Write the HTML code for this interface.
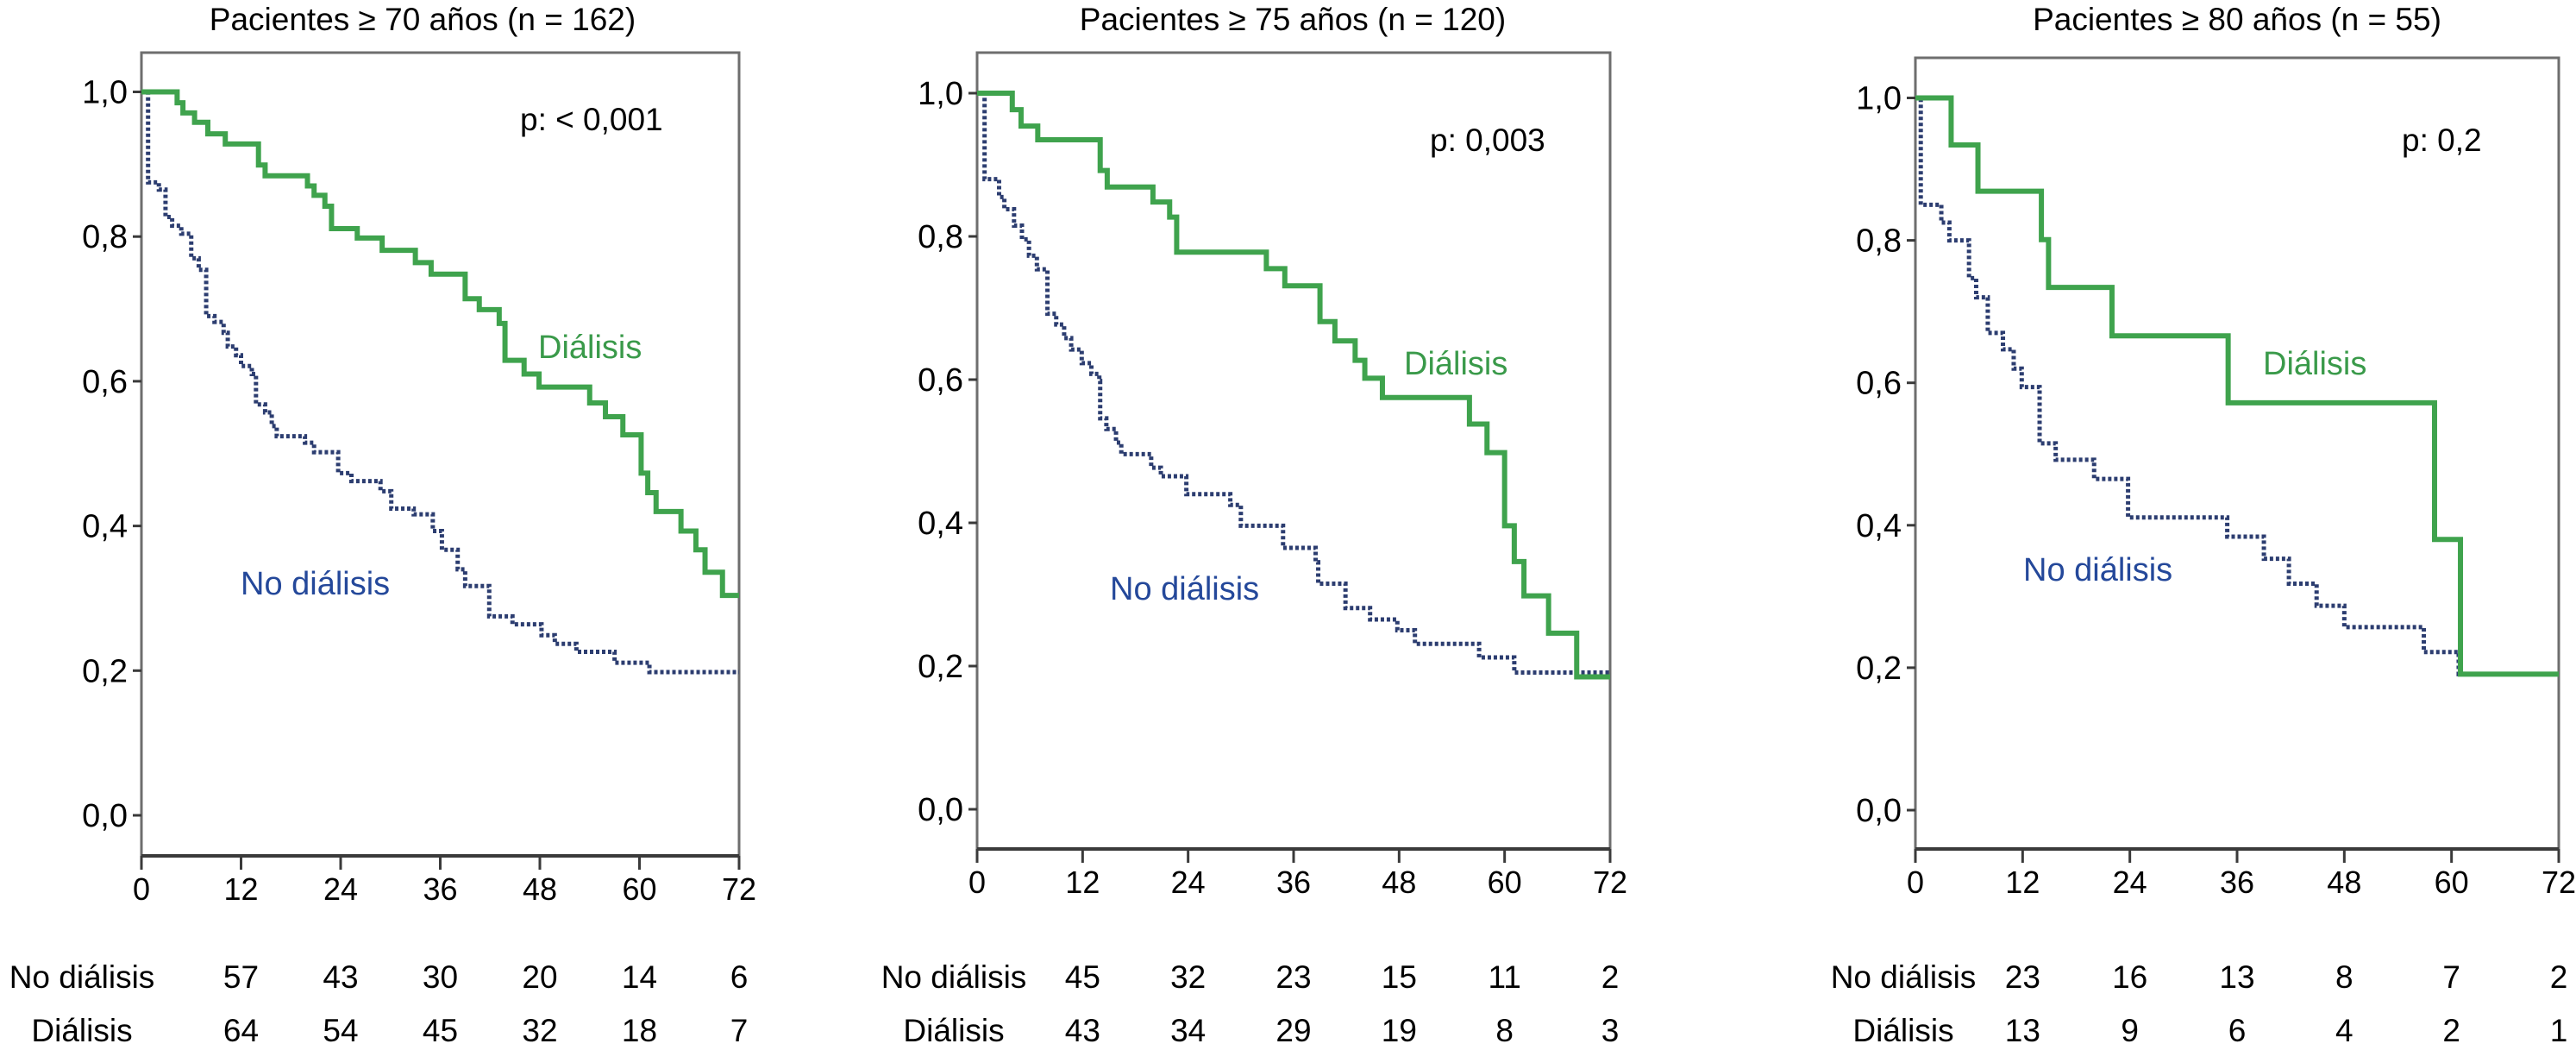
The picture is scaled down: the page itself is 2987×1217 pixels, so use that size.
<!DOCTYPE html>
<html><head><meta charset="utf-8"><style>
html,body{margin:0;padding:0;background:#fff;}
svg{display:block;font-family:"Liberation Sans",Arial,sans-serif;}
</style></head><body>
<svg id="chart" width="2987" height="1217" viewBox="0 0 2987 1217" xmlns="http://www.w3.org/2000/svg"></svg>
<script>
// ---- data ----
const xTicks = [0,12,24,36,48,60,72];
const yTicks = [0,0.2,0.4,0.6,0.8,1.0];
const yTickLabels = ["0,0","0,2","0,4","0,6","0,8","1,0"];
const titles = ["Pacientes ≥ 70 años (n = 162)","Pacientes ≥ 75 años (n = 120)","Pacientes ≥ 80 años (n = 55)"];
const pValues = ["p: < 0,001","p: 0,003","p: 0,2"];
const riskNoDial = [[57,43,30,20,14,6],[45,32,23,15,11,2],[23,16,13,8,7,2]];
const riskDial = [[64,54,45,32,18,7],[43,34,29,19,8,3],[13,9,6,4,2,1]];

const p1DialT = [0,4.3,5,6.4,8,10.1,14.1,14.9,20,20.8,22.1,22.9,26,29,33,34.9,39,40.7,43.1,43.8,46.1,47.9,54,55.9,58,60.2,61,62,65,66.8,67.9,70];
const p1DialS = [1,0.985,0.971,0.958,0.942,0.928,0.899,0.884,0.87,0.857,0.842,0.811,0.798,0.781,0.764,0.748,0.714,0.699,0.68,0.629,0.61,0.592,0.57,0.551,0.526,0.473,0.446,0.42,0.393,0.367,0.336,0.304];
const p1NoT = [0,0.8,2.1,2.9,3.7,4.8,6,6.9,7.8,8.8,9.9,10.4,11.4,12,13.3,13.8,14.9,15.7,16.3,19.7,20.8,23.7,25.3,28.8,30.1,32.8,35.1,36.2,38.1,39,41.9,44.7,48.2,49.8,52.4,57,61.2];
const p1NoS = [1,0.875,0.865,0.827,0.815,0.804,0.77,0.754,0.69,0.682,0.667,0.648,0.636,0.621,0.61,0.568,0.557,0.538,0.524,0.515,0.502,0.473,0.462,0.448,0.424,0.416,0.393,0.367,0.34,0.317,0.275,0.264,0.249,0.237,0.226,0.211,0.198];

const p2DialT = [0,4,5,6.9,14,14.8,20,21.9,22.7,32.9,35,39,40.7,43,44.1,46.1,56,58,60,61.1,62.2,65,68.2];
const p2DialS = [1,0.977,0.954,0.935,0.892,0.869,0.848,0.827,0.778,0.755,0.731,0.681,0.654,0.627,0.602,0.575,0.538,0.498,0.396,0.346,0.298,0.246,0.185];
const p2NoT = [0,0.85,2.5,3.1,4.2,5.1,5.9,6.8,8,9,9.9,10.7,11.9,13,13.9,14,14.7,15.8,16.4,19.8,20.9,23.8,28.8,30,34.8,38.5,38.8,41.9,44.7,47.8,49.8,57.1,61.1];
const p2NoS = [1,0.88,0.855,0.838,0.815,0.796,0.773,0.754,0.692,0.677,0.658,0.642,0.623,0.608,0.598,0.546,0.531,0.512,0.496,0.477,0.465,0.44,0.425,0.396,0.365,0.345,0.315,0.281,0.265,0.25,0.231,0.212,0.191];

const p3DialT = [0,4,7,14.1,14.9,22,35,58.1,61];
const p3DialS = [1,0.934,0.869,0.801,0.734,0.666,0.572,0.38,0.191];
const p3NoT = [0,0.6,2.9,3.8,6,6.8,8.1,9.8,11,11.9,13.9,15.7,20,23.8,34.9,39,41.8,44.9,48,56.9,60.8];
const p3NoS = [1,0.85,0.825,0.8,0.747,0.72,0.67,0.647,0.62,0.594,0.515,0.492,0.465,0.411,0.384,0.353,0.318,0.287,0.257,0.222,0.191];

const dialT = [p1DialT,p2DialT,p3DialT], dialS = [p1DialS,p2DialS,p3DialS];
const noT = [p1NoT,p2NoT,p3NoT], noS = [p1NoS,p2NoS,p3NoS];

// ---- layout ----
const panels = [
 {xl:164,xr:857,top:61,y1:106.5,y0:945,ax:992,title:490,rowLab:95,p:[603,151],dl:[624,415],nl:[279,689]},
 {xl:1133,xr:1867,top:61,y1:108,y0:938,ax:984,title:1499,rowLab:1106,p:[1658,175],dl:[1628,434],nl:[1287,695]},
 {xl:2221,xr:2967,top:67,y1:113.5,y0:939,ax:984,title:2594,rowLab:2207,p:[2785,175],dl:[2624,434],nl:[2346,673]}
];
const svg = document.getElementById('chart');
const NS = 'http://www.w3.org/2000/svg';
function mk(tag, attrs, parent){const e=document.createElementNS(NS,tag);for(const k in attrs)e.setAttribute(k,attrs[k]);(parent||svg).appendChild(e);return e;}

panels.forEach((P,i)=>{
  const X = t => P.xl + (P.xr-P.xl)*t/72;
  const Y = v => P.y0 + (P.y1-P.y0)*v;
  const g = mk('g',{});
  
  

  const ti = mk('text',{x:P.title,y:35,'font-size':37,'text-anchor':'middle',fill:'#000'},g);
  ti.textContent = titles[i];
  
  

  const fr = mk('path',{d:`M${P.xl},${P.ax} V${P.top} H${P.xr} V${P.ax}`,fill:'none',stroke:'#6e6e6e','stroke-width':3},g);
  
  
  const xa = mk('line',{x1:P.xl,x2:P.xr,y1:P.ax,y2:P.ax,stroke:'#3a3a3a','stroke-width':4},g);
  
  

  xTicks.forEach((t,j)=>{
    const tk = mk('line',{x1:X(t),x2:X(t),y1:P.ax,y2:P.ax+16,stroke:'#3a3a3a','stroke-width':3},g);
    
    
    const tl = mk('text',{x:X(t),y:P.ax+51,'font-size':36,'text-anchor':'middle',fill:'#000'},g);
    tl.textContent = t;
    
    
  });
  yTicks.forEach((v,j)=>{
    const tk = mk('line',{x1:P.xl-10,x2:P.xl,y1:Y(v),y2:Y(v),stroke:'#3a3a3a','stroke-width':3},g);
    
    
    const tl = mk('text',{x:P.xl-16,y:Y(v)+13,'font-size':38,'text-anchor':'end',fill:'#000'},g);
    tl.textContent = yTickLabels[j];
    
    
  });

  function stepPath(T,S){
    let d = `M${X(T[0])},${Y(S[0])}`;
    for(let k=1;k<T.length;k++){d += ` H${X(T[k])} V${Y(S[k])}`;}
    d += ` H${X(72)}`;
    return d;
  }
  const nl = mk('path',{d:stepPath(noT[i],noS[i]),fill:'none',stroke:'#2c3d70','stroke-width':5,'stroke-dasharray':'4 3'},g);
  
  
  const dl = mk('path',{d:stepPath(dialT[i],dialS[i]),fill:'none',stroke:'#3fa34d','stroke-width':6},g);
  
  

  const pv = mk('text',{x:P.p[0],y:P.p[1],'font-size':37,fill:'#000'},g);
  pv.textContent = pValues[i];
  
  
  const dlab = mk('text',{x:P.dl[0],y:P.dl[1],'font-size':38,fill:'#3a9a4a'},g);
  dlab.textContent = 'Diálisis';
  
  
  const nlab = mk('text',{x:P.nl[0],y:P.nl[1],'font-size':38,fill:'#24489a'},g);
  nlab.textContent = 'No diálisis';
  
  

  const r1 = mk('text',{x:P.rowLab,y:1145,'font-size':37,'text-anchor':'middle',fill:'#000'},g);
  r1.textContent = 'No diálisis';
  
  
  const r2 = mk('text',{x:P.rowLab,y:1207,'font-size':37,'text-anchor':'middle',fill:'#000'},g);
  r2.textContent = 'Diálisis';
  
  
  riskNoDial[i].forEach((n,j)=>{
    const a = mk('text',{x:X(xTicks[j+1]),y:1145,'font-size':37,'text-anchor':'middle',fill:'#000'},g);
    a.textContent = n;
    
    
  });
  riskDial[i].forEach((n,j)=>{
    const a = mk('text',{x:X(xTicks[j+1]),y:1207,'font-size':37,'text-anchor':'middle',fill:'#000'},g);
    a.textContent = n;
    
    
  });
});
</script>
</body></html>
